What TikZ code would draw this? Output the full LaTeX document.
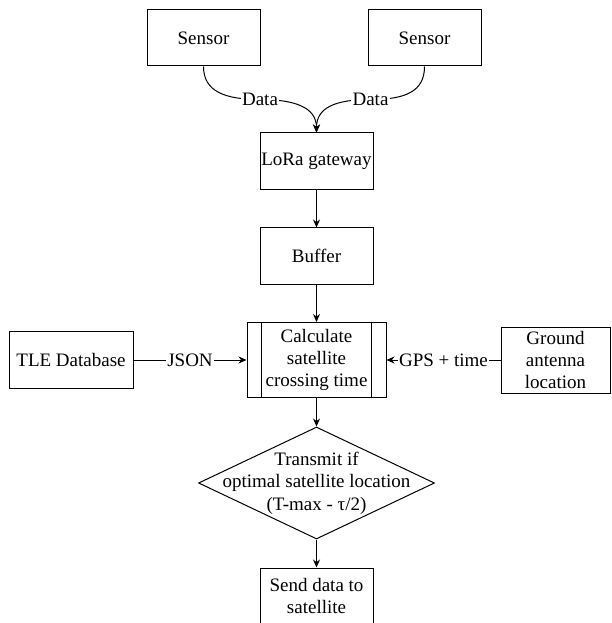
\documentclass[tikz,border=0pt]{standalone}
\usepackage{fontspec}
\setmainfont{Liberation Serif}
\usetikzlibrary{arrows.meta,shapes.geometric,calc}

\begin{document}
\begin{tikzpicture}[x=0.75pt, y=-0.75pt, line width=0.75pt,
	font=\fontsize{14.25pt}{16.75pt}\selectfont,
	box/.style={draw, rectangle, inner sep=0pt, align=center,
		minimum width=84.75pt, minimum height=42pt},
	decision/.style={draw, diamond, inner sep=0pt,
		minimum width=177pt, minimum height=84pt},
	flow/.style={-{Stealth[length=6pt, width=5.25pt]}},
	edgelabel/.style={fill=white, inner sep=1pt}]
	\useasboundingbox (0,0) rectangle (611,623);

	% Sensoren und Gateway
	\node[box] (sensorA) at (203.5,38) {Sensor};
	\node[box] (sensorB) at (424.5,38) {Sensor};
	\node[box, minimum height=42.75pt] (lora) at (316.5,161.5) {LoRa gateway};
	\node[box] (buffer) at (316.5,256) {Buffer};

	% Berechnung mit Eingaben links und rechts
	\node[box, minimum width=104.25pt, minimum height=56.25pt] (calc) at (316.5,360)
		{Calculate\\satellite\\crossing time};
	\draw ([xshift=11.25pt]calc.north west) -- ([xshift=11.25pt]calc.south west);
	\draw ([xshift=-11.25pt]calc.north east) -- ([xshift=-11.25pt]calc.south east);
	\node[box, minimum width=93pt, minimum height=42.75pt] (tle) at (71,360) {TLE Database};
	\node[box, minimum width=81.75pt, minimum height=49.5pt] (ground) at (555.5,360)
		{Ground\\antenna\\location};

	% Entscheidung und Senden
	\node[decision, label={[align=center]center:{Transmit if\\optimal satellite location\\(T-max - τ/2)}}]
		(transmit) at (316.5,483) {};
	\node[box] (send) at (316.5,596) {Send data to\\satellite};

	% Verbindungen
	\draw[flow] (sensorA.south) .. controls +(0,25) and +(-35,0) ..
		($(sensorA.south)!0.5!(lora.north)$) node[edgelabel] {Data}
		.. controls +(35,0) and +(0,-25) .. (lora.north);
	\draw[flow] (sensorB.south) .. controls +(0,25) and +(35,0) ..
		($(sensorB.south)!0.5!(lora.north)$) node[edgelabel] {Data}
		.. controls +(-35,0) and +(0,-25) .. (lora.north);
	\draw[flow] (lora) -- (buffer);
	\draw[flow] (buffer) -- (calc);
	\draw[flow] (tle) -- node[edgelabel] {JSON} (calc);
	\draw[flow] (ground) -- node[edgelabel] {GPS + time} (calc);
	\draw[flow] (calc) -- (transmit);
	\draw[flow] (transmit) -- (send);
\end{tikzpicture}
\end{document}
